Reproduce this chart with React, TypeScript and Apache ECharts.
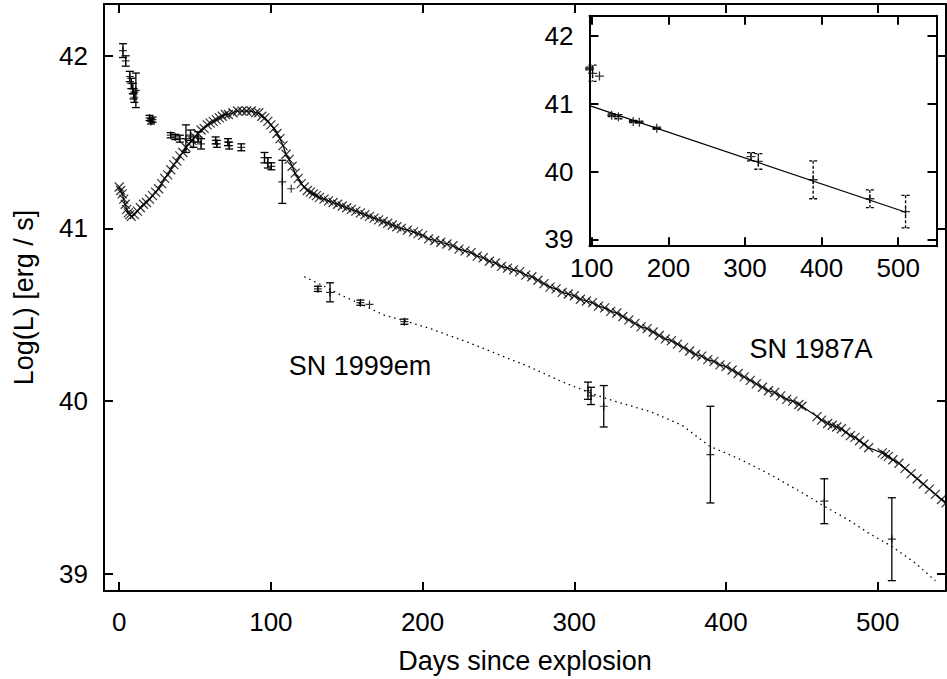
import React, { useEffect, useRef } from "react";
import * as echarts from "echarts";

// ---- SN 1987A bolometric light curve (x markers + solid line) ----
const days1987 = [
  0, 1, 2, 3, 4, 5, 6, 7, 8, 10, 12, 14, 16, 18, 20, 22, 24, 26, 28, 30, 32, 34, 36, 38, 40, 42, 44, 46, 48, 50,
  52, 54, 56, 58, 60, 62, 64, 66, 68, 70, 72, 75, 78, 81, 84, 87, 90, 92, 94, 96, 98, 100, 102, 104, 106, 108, 110,
  112, 114, 116, 118, 120, 122, 124, 126, 128, 130, 132, 135, 138, 141, 144, 147, 150, 153, 156, 159, 162, 165, 168,
  171, 174, 177, 180, 183, 186, 190, 194, 197, 200, 204, 208, 212, 216, 220, 224, 228, 232, 236, 240, 244, 248, 252,
  256, 260, 264, 268, 272, 276, 280, 284, 288, 292, 296, 300, 304, 308, 312, 316, 320, 324, 328, 332, 336, 340, 344,
  348, 352, 356, 360, 364, 368, 372, 376, 380, 384, 388, 392, 396, 400, 404, 408, 412, 416, 420, 424, 428, 432, 436,
  440, 444, 448, 450, 460, 463, 467, 470, 473, 476, 479, 482, 485, 488, 491, 494, 503, 505, 507, 510, 514, 518, 522,
  526, 530, 534, 538, 542, 545,
];
const logL1987 = [
  41.24, 41.22, 41.2, 41.17, 41.14, 41.11, 41.09, 41.08, 41.07, 41.08, 41.1, 41.12, 41.14, 41.15, 41.17, 41.19, 41.21,
  41.23, 41.26, 41.29, 41.31, 41.34, 41.37, 41.39, 41.42, 41.44, 41.47, 41.49, 41.51, 41.53, 41.55, 41.57, 41.58, 41.6,
  41.61, 41.62, 41.63, 41.64, 41.65, 41.66, 41.66, 41.67, 41.68, 41.68, 41.68, 41.68, 41.67, 41.67, 41.65, 41.64, 41.62,
  41.6, 41.58, 41.55, 41.52, 41.48, 41.43, 41.4, 41.36, 41.32, 41.29, 41.26, 41.24, 41.22, 41.21, 41.2, 41.19, 41.18,
  41.17, 41.16, 41.15, 41.14, 41.13, 41.12, 41.11, 41.1, 41.09, 41.08, 41.07, 41.06, 41.05, 41.04, 41.03, 41.02, 41.01,
  41.0, 40.99, 40.98, 40.97, 40.96, 40.94, 40.93, 40.92, 40.91, 40.9, 40.88, 40.87, 40.86, 40.84, 40.83, 40.81, 40.8,
  40.78, 40.77, 40.76, 40.75, 40.73, 40.72, 40.7, 40.68, 40.66, 40.65, 40.63, 40.62, 40.61, 40.59, 40.58, 40.57, 40.55,
  40.54, 40.52, 40.51, 40.49, 40.47, 40.45, 40.43, 40.42, 40.4, 40.38, 40.36, 40.35, 40.33, 40.31, 40.29, 40.27, 40.26,
  40.24, 40.23, 40.21, 40.2, 40.18, 40.16, 40.14, 40.12, 40.1, 40.08, 40.06, 40.05, 40.03, 40.01, 40.0, 39.98, 39.97,
  39.91, 39.89, 39.87, 39.86, 39.85, 39.84, 39.82, 39.8, 39.79, 39.77, 39.75, 39.73, 39.7, 39.69, 39.68, 39.66, 39.64,
  39.61, 39.58, 39.55, 39.52, 39.49, 39.46, 39.43, 39.41,
];

// ---- SN 1999em (+ markers with error bars) ----
const days1999 = [
  2.5, 4.3, 7, 8, 9, 9.5, 10, 11, 20, 21, 22, 34, 37, 40, 44, 47, 49, 52, 54, 63.6, 64.4, 71.7, 72.5, 80.5, 95.8, 98,
  100.3, 107.5, 113.4, 131, 139, 159, 165, 188, 309, 311, 319.4, 389.7, 464.8, 509.3,
];
const logL1999 = [
  42.03, 41.97, 41.88, 41.84, 41.81, 41.78, 41.76, 41.8, 41.64, 41.62, 41.63, 41.54, 41.53, 41.52, 41.52, 41.54, 41.5,
  41.53, 41.49, 41.51, 41.49, 41.5, 41.48, 41.47, 41.41, 41.38, 41.36, 41.27, 41.23, 40.65, 40.63, 40.57, 40.56, 40.46,
  40.06, 40.03, 39.97, 39.69, 39.42, 39.2,
];
const err1999 = [
  0.04, 0.03, 0.03, 0.03, 0.03, 0.03, 0.03, 0.1, 0.015, 0.015, 0.015, 0.015, 0.015, 0.02, 0.08, 0.03, 0.03, 0.03, 0.03,
  0.02, 0.02, 0.02, 0.02, 0.02, 0.03, 0.03, 0.02, 0.125, 0, 0.015, 0.055, 0.015, 0, 0.015, 0.05, 0.05, 0.12, 0.28, 0.13,
  0.24,
];

// ---- SN 1999em model (dotted) ----
const modelDays = [
  122, 134, 147, 160, 174, 190, 205, 230, 250, 270, 290, 301, 316, 330, 350, 371, 389, 410, 428, 450, 465, 481, 495,
  509, 525, 538,
];
const modelLogL = [
  40.72, 40.67, 40.61, 40.56, 40.5, 40.46, 40.42, 40.34, 40.27, 40.2, 40.12, 40.08, 40.03, 39.99, 39.94, 39.86, 39.74,
  39.66, 39.58, 39.47, 39.39, 39.31, 39.23, 39.16, 39.06, 38.96,
];

// ---- inset ----
const insetDays = [97, 101, 110, 126, 134.7, 154, 162, 184.8, 307.8, 317.4, 389, 463, 509.6];
const insetLogL = [41.52, 41.45, 41.41, 40.83, 40.81, 40.74, 40.73, 40.64, 40.22, 40.15, 39.88, 39.6, 39.41];
const insetErr = [0.02, 0.12, 0, 0.02, 0.03, 0.015, 0.015, 0.015, 0.06, 0.115, 0.28, 0.13, 0.24];
const fitDays = [98, 510];
const fitLogL = [40.97, 39.4];

// ---- ticks ----
const mainXTicks = [0, 100, 200, 300, 400, 500];
const insetXTicks = [100, 200, 300, 400, 500];
const yTicks = [39, 40, 41, 42];

const FONT = "'Liberation Sans', Arial, Helvetica, sans-serif";
const CROSS = "path://M0,0L10,10M10,0L0,10";
const PLUS = "path://M5,0L5,10M0,5L10,5";

function errRender(dashed: boolean) {
  return (params: any, api: any) => {
    const x = api.value(0);
    const y = api.value(1);
    const e = api.value(2);
    if (!e) return null;
    const top = api.coord([x, y + e]);
    const bot = api.coord([x, y - e]);
    const w = 4;
    const style: any = { stroke: "#000", lineWidth: 1.3, fill: null };
    if (dashed) style.lineDash = [3, 2];
    return {
      type: "group",
      children: [
        { type: "line", shape: { x1: top[0], y1: top[1], x2: bot[0], y2: bot[1] }, style },
        { type: "line", shape: { x1: top[0] - w, y1: top[1], x2: top[0] + w, y2: top[1] }, style },
        { type: "line", shape: { x1: bot[0] - w, y1: bot[1], x2: bot[0] + w, y2: bot[1] }, style },
      ],
    };
  };
}

function makeXAxis(
  grid: number,
  pos: string,
  min: number,
  max: number,
  ticks: number[],
  labels: boolean,
  margin: number,
  name?: string
) {
  return {
    type: "value",
    gridIndex: grid,
    position: pos,
    min,
    max,
    name: name || "",
    nameLocation: "middle",
    nameGap: 56,
    nameTextStyle: { fontFamily: FONT, fontSize: 27, color: "#000" },
    axisLine: { show: true, onZero: false, lineStyle: { color: "#000", width: 2 } },
    axisTick: { show: true, inside: true, length: 9, customValues: ticks, lineStyle: { color: "#000", width: 2 } },
    axisLabel: {
      show: labels,
      customValues: ticks,
      margin,
      fontFamily: FONT,
      fontSize: 26,
      color: "#000",
    },
    splitLine: { show: false },
  };
}

function makeYAxis(grid: number, pos: string, labels: boolean, name?: string) {
  return {
    type: "value",
    gridIndex: grid,
    position: pos,
    min: 38.9,
    max: 42.3,
    name: name || "",
    nameLocation: "middle",
    nameGap: 67,
    nameRotate: 90,
    nameTextStyle: { fontFamily: FONT, fontSize: 27, color: "#000" },
    axisLine: { show: true, onZero: false, lineStyle: { color: "#000", width: 2 } },
    axisTick: { show: true, inside: true, length: 9, customValues: yTicks, lineStyle: { color: "#000", width: 2 } },
    axisLabel: {
      show: labels,
      customValues: yTicks,
      margin: 16,
      fontFamily: FONT,
      fontSize: 26,
      color: "#000",
    },
    splitLine: { show: false },
  };
}

export default function App() {
  const ref = useRef<HTMLDivElement>(null);
  useEffect(() => {
    document.body.style.margin = "0";
    if (!ref.current) return;
    const chart = echarts.init(ref.current, undefined, { renderer: "svg" });

    const sn1987 = days1987.map((d, i) => [d, logL1987[i]]);
    const sn1999 = days1999.map((d, i) => [d, logL1999[i], err1999[i]]);
    const model = modelDays.map((d, i) => [d, modelLogL[i]]);
    const inset = insetDays.map((d, i) => [d, insetLogL[i], insetErr[i]]);
    const fit = fitDays.map((d, i) => [d, fitLogL[i]]);

    const symStyle = { color: "none", borderColor: "#000", borderWidth: 1.2 };

    chart.setOption({
      animation: false,
      backgroundColor: "#fff",
      textStyle: { fontFamily: FONT },
      grid: [
        { left: 104, top: 4, width: 842, height: 587 },
        { left: 589.5, top: 15.7, width: 347, height: 230.5, show: true, backgroundColor: "#fff", borderWidth: 0 },
      ],
      xAxis: [
        makeXAxis(0, "bottom", -10, 545, mainXTicks, true, 18, "Days since explosion"),
        makeXAxis(0, "top", -10, 545, mainXTicks, false, 12),
        makeXAxis(1, "bottom", 97, 550, insetXTicks, true, 9),
        makeXAxis(1, "top", 97, 550, insetXTicks, false, 9),
      ],
      yAxis: [
        makeYAxis(0, "left", true, "Log(L) [erg / s]"),
        makeYAxis(0, "right", false),
        makeYAxis(1, "left", true),
        makeYAxis(1, "right", false),
      ],
      series: [
        {
          name: "SN 1987A line",
          type: "line",
          xAxisIndex: 0,
          yAxisIndex: 0,
          data: sn1987,
          showSymbol: false,
          lineStyle: { color: "#000", width: 1.2 },
          z: 2,
        },
        {
          name: "SN 1987A",
          type: "scatter",
          xAxisIndex: 0,
          yAxisIndex: 0,
          data: sn1987,
          symbol: CROSS,
          symbolSize: 9,
          itemStyle: symStyle,
          z: 3,
        },
        {
          name: "SN 1999em model",
          type: "line",
          xAxisIndex: 0,
          yAxisIndex: 0,
          data: model,
          showSymbol: false,
          lineStyle: { color: "#000", width: 1.3, type: [1.5, 4] },
          z: 2,
        },
        {
          name: "SN 1999em errors",
          type: "custom",
          xAxisIndex: 0,
          yAxisIndex: 0,
          data: sn1999,
          encode: { x: 0, y: 1 },
          renderItem: errRender(false),
          z: 3,
        },
        {
          name: "SN 1999em",
          type: "scatter",
          xAxisIndex: 0,
          yAxisIndex: 0,
          data: sn1999.map((p) => [p[0], p[1]]),
          symbol: PLUS,
          symbolSize: 8,
          itemStyle: symStyle,
          z: 3,
        },
        {
          name: "Inset fit",
          type: "line",
          xAxisIndex: 2,
          yAxisIndex: 2,
          data: fit,
          showSymbol: false,
          lineStyle: { color: "#000", width: 1.2 },
          z: 4,
        },
        {
          name: "Inset errors",
          type: "custom",
          xAxisIndex: 2,
          yAxisIndex: 2,
          data: inset,
          encode: { x: 0, y: 1 },
          renderItem: errRender(true),
          z: 4,
        },
        {
          name: "Inset points",
          type: "scatter",
          xAxisIndex: 2,
          yAxisIndex: 2,
          data: inset.map((p) => [p[0], p[1]]),
          symbol: PLUS,
          symbolSize: 9,
          itemStyle: { color: "none", borderColor: "#000", borderWidth: 1.3 },
          z: 4,
        },
      ],
      graphic: [
        {
          type: "text",
          x: 360,
          y: 366,
          style: { text: "SN 1999em", font: `27px ${FONT}`, fill: "#000", align: "center", verticalAlign: "middle" },
        },
        {
          type: "text",
          x: 811,
          y: 349,
          style: { text: "SN 1987A", font: `27px ${FONT}`, fill: "#000", align: "center", verticalAlign: "middle" },
        },
      ],
    });
    return () => chart.dispose();
  }, []);
  return <div ref={ref} style={{ width: 947, height: 679 }} />;
}
